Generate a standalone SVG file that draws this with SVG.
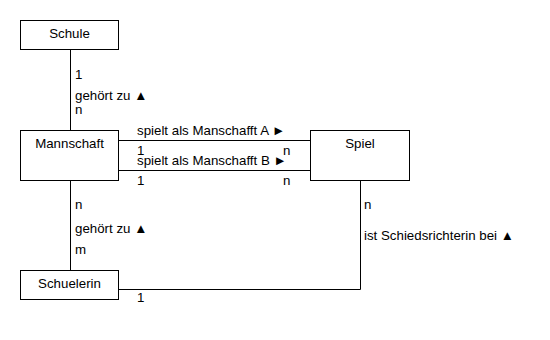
<svg xmlns="http://www.w3.org/2000/svg" width="550" height="340" viewBox="0 0 550 340">
<style>
  .box { fill: #ffffff; stroke: #000000; stroke-width: 1; }
  .edge { fill: none; stroke: #000000; stroke-width: 1; }
  text { font-family: "Liberation Sans", Arial, sans-serif; font-size: 13.3px; fill: #000000; }
  .c { text-anchor: middle; }
</style>
<rect width="550" height="340" fill="#ffffff"/>
<g id="connectors">
  <g id="e-schule-mannschaft">
    <line class="edge" x1="70.5" y1="49.5" x2="70.5" y2="130.5"/>
    <text x="75" y="79">1</text>
    <text x="75" y="100">gehört zu ▲</text>
    <text x="75" y="114">n</text>
  </g>
  <g id="e-mannschaft-spiel-a">
    <line class="edge" x1="118.5" y1="140.5" x2="310.5" y2="140.5"/>
    <text x="137" y="135">spielt als Manschafft A ►</text>
    <text x="137" y="155">1</text>
    <text x="283" y="155">n</text>
  </g>
  <g id="e-mannschaft-spiel-b">
    <line class="edge" x1="118.5" y1="170.5" x2="310.5" y2="170.5"/>
    <text x="137" y="165">spielt als Manschafft B ►</text>
    <text x="137" y="185">1</text>
    <text x="283" y="185">n</text>
  </g>
  <g id="e-mannschaft-schuelerin">
    <line class="edge" x1="70.5" y1="180.5" x2="70.5" y2="270.5"/>
    <text x="75" y="209">n</text>
    <text x="75" y="233">gehört zu ▲</text>
    <text x="75" y="254">m</text>
  </g>
  <g id="e-schuelerin-spiel">
    <polyline class="edge" points="118.5,289.5 360.5,289.5 360.5,180.5"/>
    <text x="364" y="209">n</text>
    <text x="364" y="240">ist Schiedsrichterin bei ▲</text>
    <text x="137" y="302">1</text>
  </g>
</g>
<g id="schule">
  <rect class="box" x="20.5" y="20.5" width="98" height="29"/>
  <text class="c" x="69.5" y="38">Schule</text>
</g>
<g id="mannschaft">
  <rect class="box" x="20.5" y="130.5" width="98" height="50"/>
  <text class="c" x="69.5" y="148">Mannschaft</text>
</g>
<g id="spiel">
  <rect class="box" x="310.5" y="130.5" width="99" height="50"/>
  <text class="c" x="360" y="148">Spiel</text>
</g>
<g id="schuelerin">
  <rect class="box" x="20.5" y="270.5" width="98" height="29"/>
  <text class="c" x="69.5" y="287.5">Schuelerin</text>
</g>
</svg>
